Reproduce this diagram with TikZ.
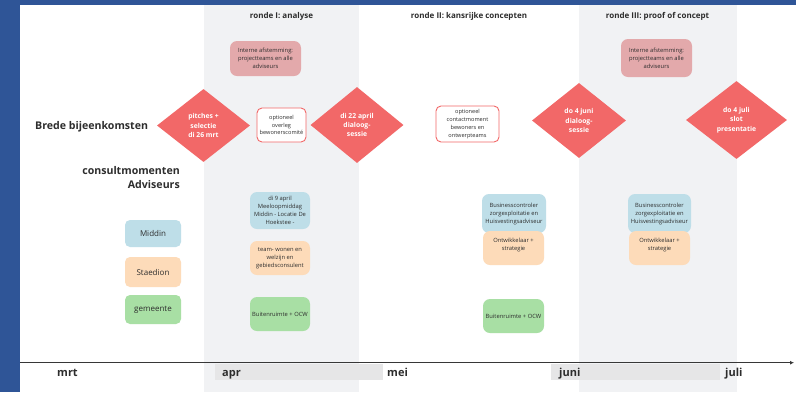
\documentclass[tikz,border=0pt]{standalone}
\usepackage{fontspec}
\setmainfont{Open Sans}
\usetikzlibrary{shapes.geometric,arrows.meta}
\definecolor{bgblue}{RGB}{47,85,151}
\definecolor{bandgray}{RGB}{241,242,244}
\definecolor{monthgray}{RGB}{230,230,231}
\definecolor{dred}{RGB}{242,104,104}
\definecolor{pinkc}{RGB}{227,169,171}
\definecolor{lblue}{RGB}{190,222,232}
\definecolor{lorange}{RGB}{253,219,185}
\definecolor{lgreen}{RGB}{168,223,164}
\definecolor{txt}{RGB}{45,45,45}
\definecolor{axisc}{RGB}{55,55,55}
\begin{document}
\begin{tikzpicture}[x=1pt,y=-1pt,
  diam/.style={diamond, fill=dred, draw=none, inner sep=0pt, text=white,
    font=\fontsize{6.8}{9.3}\selectfont\bfseries, align=center},
  optbox/.style={rectangle, rounded corners=5pt, draw=dred, line width=0.9pt, fill=white,
    font=\fontsize{5.6}{7.8}\selectfont, align=center, inner sep=1pt, text=txt},
  intbox/.style={rectangle, rounded corners=7pt, fill=pinkc, minimum width=71pt,
    font=\fontsize{5.8}{8}\selectfont, align=center, inner sep=1pt, text=txt},
  colbox/.style={rectangle, rounded corners=7pt, font=\fontsize{5.8}{8}\selectfont,
    align=center, inner sep=1pt, text=txt},
  legbox/.style={rectangle, rounded corners=5pt, minimum width=56pt,
    font=\fontsize{8}{9}\selectfont, text=txt},
  title/.style={font=\fontsize{8}{9}\selectfont\bfseries, text=txt, anchor=base, inner sep=0pt},
  rowlab/.style={font=\fontsize{10.6}{12}\selectfont\bfseries, text=txt, inner sep=0pt},
  month/.style={font=\fontsize{11}{12}\selectfont\bfseries, text=txt, anchor=base west, inner sep=0pt}
]
\useasboundingbox (0,0) rectangle (796,392);
% background
\fill[bgblue] (0,0) rectangle (796,392);
\fill[white] (20,5) rectangle (796,392);
\fill[bandgray] (204,5) rectangle (359,392);
\fill[bandgray] (579,5) rectangle (737,392);
\fill[monthgray] (215,364) rectangle (383,380);
\fill[monthgray] (551,364) rectangle (720,380);

% titles
\node[title] (t1) at (281.5,18.5) {ronde I: analyse};
\node[title] (t2) at (469,18.5) {ronde II: kansrijke concepten};
\node[title] (t3) at (657.5,18.5) {ronde III: proof of concept};

% row labels
\node[rowlab, anchor=base west] (brede) at (35,129) {Brede bijeenkomsten};
\node[rowlab, anchor=base east] (consult) at (180,174) {consultmomenten};
\node[rowlab, anchor=base east] (advis) at (180,188) {Adviseurs};

% interne afstemming
\node[intbox, minimum height=35pt] (int1) at (265.5,58.5) {Interne afstemming:\\projectteams en alle\\adviseurs};
\node[intbox, minimum height=38pt] (int2) at (656.5,58) {Interne afstemming:\\projectteams en alle\\adviseurs};

% diamonds
\node[diam, minimum width=93pt, minimum height=73pt] (d1) at (203.5,125.5) {pitches +\\selectie\\di 26 mrt};
\node[diam, minimum width=93pt, minimum height=76pt] (d2) at (357,125) {di 22 april\\dialoog-\\sessie};
\node[diam, minimum width=94pt, minimum height=75pt] (d3) at (579,120.5) {do 4 juni\\dialoog-\\sessie};
\node[diam, minimum width=101pt, minimum height=78pt] (d4) at (736.5,120) {do 4 juli\\slot\\presentatie};

% optional boxes
\node[optbox, minimum width=49pt, minimum height=34pt] (o1) at (281.5,125) {optioneel\\overleg\\bewonerscomité};
\node[optbox, minimum width=63pt, minimum height=36pt] (o2) at (467.5,124) {optioneel\\contactmoment\\bewoners en\\ontwerpteams};

% legend
\node[legbox, fill=lblue, minimum height=27pt] (middin) at (153,233.5) {Middin};
\node[legbox, fill=lorange, minimum height=30pt] (staedion) at (153,272) {Staedion};
\node[legbox, fill=lgreen, minimum height=29pt] (gemeente) at (153,309.5) {gemeente};

% ronde I column
\node[colbox, fill=lblue, minimum width=60pt, minimum height=37pt] (r1a) at (280,210.5) {di 9 april\\Meeloopmiddag\\Middin - Locatie De\\Hoekstee -};
\node[colbox, fill=lorange, minimum width=60pt, minimum height=34pt] (r1b) at (280,258) {team- wonen en\\welzijn en\\gebiedsconsulent};
\node[colbox, fill=lgreen, minimum width=60pt, minimum height=34pt] (r1c) at (280,314) {Buitenruimte + OCW};

% ronde II column
\node[colbox, fill=lblue, minimum width=64pt, minimum height=39pt] (r2a) at (514,213.5) {Businesscontroler\\zorgexploitatie en\\Huisvestingsadviseur};
\node[colbox, fill=lorange, minimum width=61pt, minimum height=34pt, text depth=8pt] (r2b) at (513.5,248) {Ontwikkelaar +\\strategie};
\node[colbox, fill=lgreen, minimum width=61pt, minimum height=34pt] (r2c) at (513.5,316) {Buitenruimte + OCW};

% ronde III column
\node[colbox, fill=lblue, minimum width=63pt, minimum height=39pt] (r3a) at (659.5,213.5) {Businesscontroler\\zorgexploitatie en\\Huisvestingsadviseur};
\node[colbox, fill=lorange, minimum width=61pt, minimum height=34pt, text depth=8pt] (r3b) at (659.5,248) {Ontwikkelaar +\\strategie};

% axis
\coordinate (axs) at (20,362.7);
\coordinate (axe) at (794,362.7);
\draw[axisc, line width=1.3pt, -{Latex[length=4pt,width=4pt]}] (axs) -- (axe);

% months
\node[month] (mrt) at (57,376) {mrt};
\node[month] (apr) at (222,376) {apr};
\node[month] (mei) at (387,376) {mei};
\node[month] (juni) at (559,376) {juni};
\node[month] (juli) at (725,376) {juli};
\end{tikzpicture}
\end{document}
